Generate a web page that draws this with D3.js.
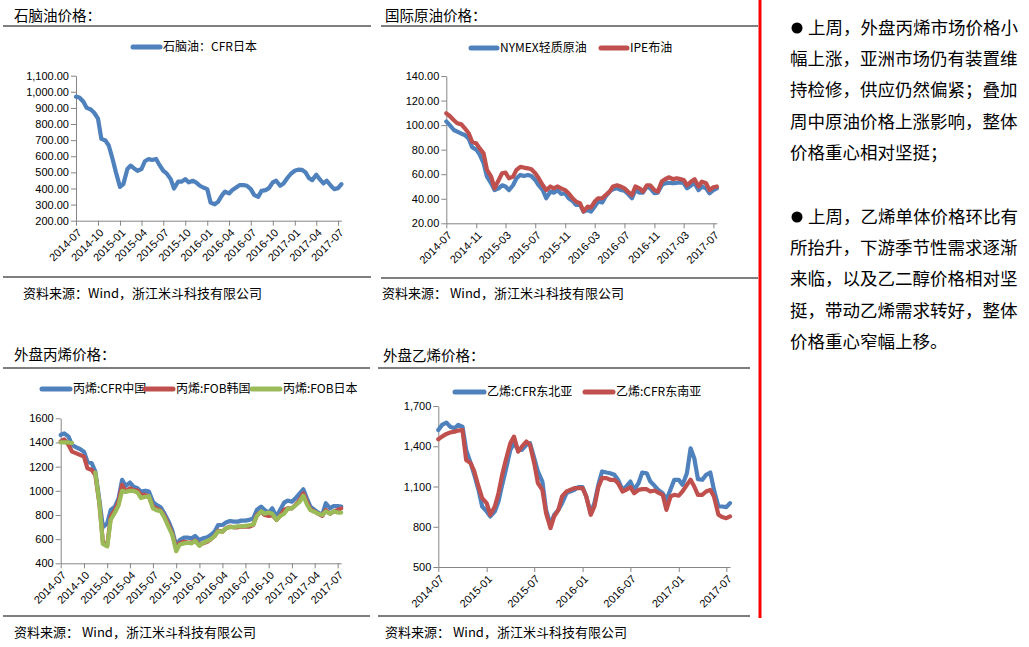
<!DOCTYPE html>
<html><head><meta charset="utf-8">
<script src="https://cdn.jsdelivr.net/npm/d3@7"></script>
<style>
body{margin:0;background:#fff;}
svg{display:block;font-family:"Noto Sans CJK SC","Liberation Sans",sans-serif;}
.axis text{font-family:"Liberation Sans",Arial,sans-serif;font-size:11px;fill:#000;}
.axis path,.axis line{stroke:#868686;stroke-width:1;}
</style>
</head><body>
<svg id="c" width="1029" height="647"></svg>
<script>
// ---------- DATA (semi-monthly readings, 2014-07-01 .. 2017-07-15) ----------
const naphtha = [970,965,938,900,890,870,833,708,698,667,583,500,
 410,427,521,542,525,510,521,569,583,577,583,546,510,494,458,400,442,442,458,438,448,438,417,406,
 396,312,302,317,354,381,369,390,406,421,421,417,396,360,348,385,390,402,438,448,417,431,465,490,
 510,517,515,500,465,452,485,458,431,448,417,396,402,427];
const wti = [103,100,96,94.7,93,92,89,82,80,76,69,58,
 52.6,47,48.5,51,50,47,51,56.7,59.4,58.6,59.4,58.6,55.3,51,47,40.4,45.8,45,47,44,44.5,40.4,38.2,35,
 35,29.6,31,29.6,33.6,37.7,36.9,41.8,45.8,47.7,48.5,47.2,46.6,44,40.4,47,45,45,50,48.5,44.5,45,51,52.6,
 53,52.6,53,53.4,52.6,48.5,51,52.6,47,50,48.5,44.5,47,48.5];
const brent = [109.6,107.4,104,101.5,100.6,97.4,93.3,86.5,85,81,77,63.5,
 58,48.5,55.3,60.8,61.3,56.7,58,63.5,66,65.4,64.8,64,60.8,56.7,51,47,50,48.5,50,48.5,47,44.5,40.4,37.7,
 36.3,29.6,33.6,33,37.7,40.4,40.4,43,45.8,50,51,50,48.5,45.8,43,50,48.5,45.8,51,51,47,45.8,54,55.9,
 57.5,56,56.7,56,55.3,51,54,55.9,50,54,52.6,47,49.4,50];
const propCN = [1462,1476,1448,1379,1360,1346,1324,1241,1228,1159,924,700,
 731,841,869,938,1090,1040,1068,1034,1021,993,1001,993,910,883,863,814,745,676,545,593,612,612,607,626,
 593,607,615,634,662,717,717,737,750,745,745,753,753,759,772,841,869,841,819,855,786,841,902,919,
 910,938,979,1012,938,869,841,819,800,897,855,874,874,869];
const propKR = [1407,1426,1379,1324,1310,1297,1283,1186,1172,1131,897,575,
 545,786,841,910,1048,993,1021,1007,1001,966,966,952,869,855,836,792,717,648,524,566,579,571,571,588,
 552,566,579,599,626,670,662,690,703,698,698,703,703,703,717,800,828,800,792,800,759,792,841,855,
 855,883,924,979,910,847,828,810,792,841,810,828,841,855];
const propJP = [1400,1400,1400,1395,null,null,null,null,null,1150,900,560,
 540,760,820,880,1000,990,1000,1000,985,940,950,955,855,840,830,780,700,640,500,555,565,570,565,585,
 545,570,585,600,625,665,660,690,700,700,705,705,710,715,720,790,830,810,820,810,760,790,810,850,
 855,880,910,960,890,840,825,810,800,830,810,830,820,820];
const ethNE = [1521,1559,1576,1546,1534,1559,1546,1373,1274,1187,1075,951,
 914,877,914,988,1112,1224,1373,1422,1373,1373,1410,1422,1311,1212,1137,926,815,889,926,976,1050,1063,1075,1095,
 1095,1026,902,976,1112,1212,1204,1199,1187,1150,1075,1100,1137,1075,1125,1204,1199,1137,1105,1075,1050,1001,1080,1150,
 1150,1112,1199,1385,1311,1155,1150,1187,1204,1075,951,951,946,976];
const ethSE = [1452,1472,1492,1502,1509,1517,1521,1298,1274,1212,1100,1013,
 976,889,951,1050,1187,1298,1422,1472,1360,1397,1435,1410,1274,1125,1075,902,790,877,926,1026,1063,1075,1088,1088,
 1088,1026,889,951,1095,1162,1162,1150,1150,1125,1063,1075,1095,1050,1075,1080,1080,1063,1070,1055,1038,926,1026,1038,
 1031,1063,1112,1150,1100,1038,1038,1063,1075,1026,889,872,864,877];

const quarterTicks = ["2014-07","2014-10","2015-01","2015-04","2015-07","2015-10","2016-01","2016-04","2016-07","2016-10","2017-01","2017-04","2017-07"];
const fourMonthTicks = ["2014-07","2014-11","2015-03","2015-07","2015-11","2016-03","2016-07","2016-11","2017-03","2017-07"];
const halfYearTicks = ["2014-07","2015-01","2015-07","2016-01","2016-07","2017-01","2017-07"];
const naphthaY = [200,300,400,500,600,700,800,900,1000,1100];
const crudeY = [20,40,60,80,100,120,140];
const propY = [400,600,800,1000,1200,1400,1600];
const ethY = [500,800,1100,1400,1700];

const para1 = ["上周，外盘丙烯市场价格小","幅上涨，亚洲市场仍有装置维","持检修，供应仍然偏紧；叠加","周中原油价格上涨影响，整体","价格重心相对坚挺；"];
const para2 = ["上周，乙烯单体价格环比有","所抬升，下游季节性需求逐渐","来临，以及乙二醇价格相对坚","挺，带动乙烯需求转好，整体","价格重心窄幅上移。"];

// ---------- DRAW ----------
const parseM = d3.timeParse("%Y-%m");
const dates = naphtha.map((_, i) => new Date(2014, 6 + Math.floor(i / 2), i % 2 ? 15 : 1));
const endDate = dates[dates.length - 1];
const svg = d3.select("#c");
const BLUE = "#4F81BD", RED = "#C0504D", GREEN = "#9BBB59";

function panel(o) {
  const g = svg.append("g");
  g.append("text").attr("x", o.titleX).attr("y", o.titleY).attr("font-size", 14.5).attr("fill", "#000").text(o.title);
  g.append("line").attr("x1", o.lx0).attr("x2", o.lx1).attr("y1", o.topLine).attr("y2", o.topLine).attr("stroke", "#000").attr("stroke-width", 1.2);
  g.append("line").attr("x1", o.lx0).attr("x2", o.lx1).attr("y1", o.botLine).attr("y2", o.botLine).attr("stroke", "#000").attr("stroke-width", 1.2);
  g.append("text").attr("x", o.srcX).attr("y", o.srcY).attr("font-size", 13).attr("fill", "#000").text(o.src);

  const x = d3.scaleTime().domain([dates[0], endDate]).range([o.x0, o.x1]);
  const y = d3.scaleLinear().domain(o.yDom).range([o.y0, o.y1]);

  const ya = g.append("g").attr("class", "axis").attr("transform", `translate(${o.x0},0)`)
    .call(d3.axisLeft(y).tickValues(o.yTicks).tickSize(5).tickSizeOuter(0).tickFormat(d3.format(o.fmt)));
  ya.selectAll("text").attr("x", -7);
  const xa = g.append("g").attr("class", "axis").attr("transform", `translate(0,${o.y0})`)
    .call(d3.axisBottom(x).tickValues(o.xTicks.map(parseM)).tickSize(5).tickSizeOuter(0).tickFormat(d3.timeFormat("%Y-%m")));
  xa.selectAll("text").attr("x", 0).attr("y", 0).attr("dy", "0.35em")
    .attr("text-anchor", "end").attr("transform", "translate(3,10) rotate(-45)");

  o.series.forEach(s => {
    const line = d3.line().defined(d => d[1] != null).x(d => x(d[0])).y(d => y(d[1])).curve(d3.curveLinear);
    g.append("path").datum(dates.map((d, i) => [d, s.vals[i]]))
      .attr("d", line).attr("fill", "none").attr("stroke", s.color).attr("stroke-width", 4.2)
      .attr("stroke-linejoin", "round").attr("stroke-linecap", "round");
  });
  o.legend.forEach((l, i) => {
    const s = o.series[i];
    g.append("line").attr("x1", l[0]).attr("x2", l[1]).attr("y1", o.legY).attr("y2", o.legY)
      .attr("stroke", s.color).attr("stroke-width", 5).attr("stroke-linecap", "round");
    g.append("text").attr("x", l[1] + 3).attr("y", o.legY).attr("dy", "0.36em").attr("font-size", 12).attr("fill", "#000").text(s.name);
  });
}

panel({title:"石脑油价格：", titleX:14, titleY:21, lx0:3, lx1:371, topLine:26, botLine:277,
  src:"资料来源：Wind，浙江米斗科技有限公司", srcX:23, srcY:298,
  x0:76, x1:341.4, y0:220.7, y1:75.7, yDom:[200,1100], yTicks:naphthaY, fmt:",.2f", xTicks:quarterTicks,
  series:[{vals:naphtha, color:BLUE, name:"石脑油：CFR日本"}], legY:47, legend:[[133,160]]});

panel({title:"国际原油价格：", titleX:385, titleY:21, lx0:381, lx1:758, topLine:26, botLine:278,
  src:"资料来源： Wind，浙江米斗科技有限公司", srcX:382, srcY:298,
  x0:446.3, x1:716.8, y0:223.3, y1:76, yDom:[20,140], yTicks:crudeY, fmt:".2f", xTicks:fourMonthTicks,
  series:[{vals:wti, color:BLUE, name:"NYMEX轻质原油"},{vals:brent, color:RED, name:"IPE布油"}], legY:48, legend:[[471,497],[601,627]]});

panel({title:"外盘丙烯价格：", titleX:14, titleY:360, lx0:3, lx1:370, topLine:368, botLine:616,
  src:"资料来源： Wind，浙江米斗科技有限公司", srcX:14, srcY:637,
  x0:60.7, x1:341.2, y0:563.3, y1:418.3, yDom:[400,1600], yTicks:propY, fmt:"d", xTicks:quarterTicks,
  series:[{vals:propCN, color:BLUE, name:"丙烯:CFR中国"},{vals:propKR, color:RED, name:"丙烯:FOB韩国"},{vals:propJP, color:GREEN, name:"丙烯:FOB日本"}],
  legY:389, legend:[[42,70],[145,173],[252,280]]});

panel({title:"外盘乙烯价格：", titleX:383, titleY:361, lx0:378, lx1:750, topLine:368, botLine:616,
  src:"资料来源： Wind，浙江米斗科技有限公司", srcX:385, srcY:637,
  x0:438.3, x1:730, y0:567, y1:406, yDom:[500,1700], yTicks:ethY, fmt:",", xTicks:halfYearTicks,
  series:[{vals:ethNE, color:BLUE, name:"乙烯:CFR东北亚"},{vals:ethSE, color:RED, name:"乙烯:CFR东南亚"}],
  legY:392, legend:[[455,484],[585,613]]});

// red divider
svg.append("line").attr("x1", 760).attr("x2", 760).attr("y1", 0).attr("y2", 618).attr("stroke", "#FF0000").attr("stroke-width", 3);

// right-hand commentary
const tg = svg.append("g").attr("font-size", 17.5).attr("fill", "#000");
[[para1, 34], [para2, 223]].forEach(([p, top]) => {
  tg.append("circle").attr("cx", 797).attr("cy", top - 6).attr("r", 5.5).attr("fill", "#000");
  p.forEach((t, i) => tg.append("text").attr("x", i === 0 ? 808 : 790).attr("y", top + i * 31.2).text(t));
});
</script>
</body></html>
